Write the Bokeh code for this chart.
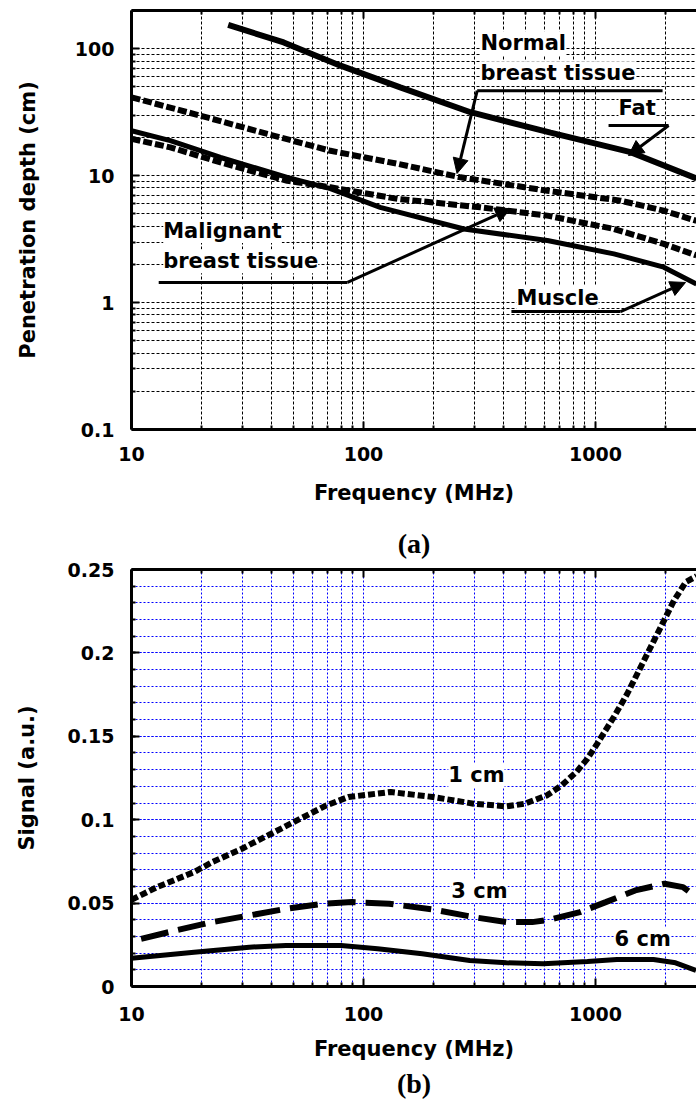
from bokeh.plotting import figure
from bokeh.models import (FixedTicker, LogAxis, Range1d, Label, Arrow, NormalHead,
                          Title, CustomJSTickFormatter)
from bokeh.layouts import column
from bokeh.embed import file_html
from bokeh.resources import INLINE

SANS = "DejaVu Sans"
SERIF = "Liberation Serif"

# ---------------- data: panel (a) penetration depth ----------------
fat_f = [26.1, 45.3, 79.6, 144, 289, 640, 1416, 2724]
fat_d = [154, 112, 73.5, 49.6, 31.6, 21.8, 15.3, 9.5]

normal_f = [10, 19.8, 38.5, 72, 140, 262, 620, 1282, 1968, 2724]
normal_d = [41.4, 29.7, 21.3, 15.7, 12.4, 9.7, 7.6, 6.35, 5.3, 4.4]

malig_f = [10, 14.7, 24.2, 46.9, 72, 140, 319, 620, 1200, 1968, 2724]
malig_d = [19.5, 16.7, 12.7, 9.1, 8.1, 6.56, 5.63, 4.84, 3.80, 2.90, 2.35]

muscle_f = [10, 14.7, 24.2, 46.9, 72, 118, 271, 620, 1200, 1968, 2724]
muscle_d = [22.6, 18.9, 13.9, 9.7, 7.9, 5.63, 3.80, 3.08, 2.42, 1.90, 1.40]

# ---------------- data: panel (b) signal ----------------
s1_f = [10, 12.9, 18.6, 22.3, 29.9, 40, 51.7, 69.2, 86.1, 131, 199, 298, 413, 496,
        618, 715, 827, 923, 1016, 1199, 1370, 1565, 1786, 1973, 2179, 2450, 2724]
s1_v = [0.052, 0.0596, 0.0686, 0.0746, 0.0826, 0.0916, 0.0996, 0.1086, 0.1136, 0.1166,
        0.1136, 0.1096, 0.108, 0.1096, 0.1146, 0.1206, 0.1286, 0.1366, 0.1455, 0.1615,
        0.1755, 0.1915, 0.2074, 0.2194, 0.2314, 0.2425, 0.246]

s3_f = [11.0, 15.5, 22.3, 32.2, 46.3, 66.7, 89.3, 129, 199, 298, 413, 533, 641, 857,
        1107, 1483, 1985, 2383, 2660]
s3_v = [0.0286, 0.0336, 0.0386, 0.0426, 0.0466, 0.0496, 0.0506, 0.0496, 0.0462, 0.0416,
        0.0386, 0.0386, 0.0402, 0.0446, 0.0506, 0.0576, 0.0616, 0.0596, 0.0546]

s6_f = [10, 18.6, 32.2, 46.3, 80, 115, 179, 287, 413, 595, 923, 1236, 1778, 2213, 2710]
s6_v = [0.017, 0.0206, 0.0236, 0.0246, 0.0246, 0.0226, 0.0196, 0.0156, 0.0142, 0.0136,
        0.015, 0.0162, 0.0162, 0.0142, 0.0096]

# ---------------- ticks ----------------
x_major = [10, 100, 1000]
x_minor = [m * d for d in (10, 100, 1000) for m in range(2, 10)]
ya_major = [0.1, 1, 10, 100]
ya_minor = [round(m * d, 3) for d in (0.1, 1, 10, 100) for m in range(2, 10)]
yb_major = [0, 0.05, 0.1, 0.15, 0.2, 0.25]
yb_minor = [round(i * 0.01, 2) for i in range(0, 26)]

X_END = 2724

fmt_code = "return tick.toString();"


def style_axis(ax, major, minor, show_labels=True):
    ax.ticker = FixedTicker(ticks=major, minor_ticks=minor)
    ax.axis_line_width = 3
    ax.axis_line_color = "black"
    ax.major_tick_in = 8
    ax.major_tick_out = 0
    ax.minor_tick_in = 4
    ax.minor_tick_out = 0
    ax.major_tick_line_width = 2
    ax.minor_tick_line_width = 2
    ax.major_tick_line_color = "black"
    ax.minor_tick_line_color = "black"
    ax.formatter = CustomJSTickFormatter(code=fmt_code)
    if show_labels:
        ax.major_label_text_font = SANS
        ax.major_label_text_font_style = "bold"
        ax.major_label_text_font_size = "19px"
        ax.major_label_text_color = "black"
    else:
        ax.major_label_text_font_size = "1px"
        ax.major_label_text_color = None
        ax.major_label_standoff = 0


def style_grid(p, color, dash):
    for g in (p.xgrid, p.ygrid):
        g.grid_line_color = color
        g.grid_line_dash = dash
        g.grid_line_width = 1
        g.minor_grid_line_color = color
        g.minor_grid_line_dash = dash
        g.minor_grid_line_width = 1


def add_label(p, x, y, text):
    p.add_layout(Label(x=x, y=y, text=text, text_font=SANS, text_font_style="bold",
                       text_font_size="21px", text_color="black",
                       text_baseline="middle", text_align="left",
                       background_fill_color="white"))


def add_arrow(p, x0, y0, x1, y1, head=True):
    end = NormalHead(size=15, fill_color="black", line_color="black", line_width=1) if head else None
    p.add_layout(Arrow(end=end, x_start=x0, y_start=y0, x_end=x1, y_end=y1,
                       line_width=3, line_color="black"))


def style_labels(ax, text, standoff):
    ax.axis_label = text
    ax.axis_label_text_font = SANS
    ax.axis_label_text_font_style = "bold"
    ax.axis_label_text_font_size = "21px"
    ax.axis_label_text_color = "black"
    ax.axis_label_standoff = standoff


def panel_title(text, standoff):
    return Title(text=text, text_font=SERIF, text_font_style="bold",
                 text_font_size="28px", align="center", text_color="black",
                 standoff=standoff)


# ================= panel (a) =================
pa = figure(width=696, height=512, x_axis_type="log", y_axis_type="log",
            x_range=Range1d(10, X_END), y_range=Range1d(0.1, 200),
            output_backend="svg", toolbar_location=None,
            min_border_left=131, min_border_right=0, min_border_top=10,
            min_border_bottom=83)
pa.outline_line_color = None

style_axis(pa.xaxis[0], x_major, x_minor)
style_axis(pa.yaxis[0], ya_major, ya_minor)
pa.xaxis[0].major_label_standoff = 17
pa.yaxis[0].major_label_standoff = 17
style_labels(pa.xaxis[0], "Frequency (MHz)", 17)
style_labels(pa.yaxis[0], "Penetration depth (cm)", 32)
pa.xgrid.ticker = pa.xaxis[0].ticker
pa.ygrid.ticker = pa.yaxis[0].ticker
style_grid(pa, "black", "3 2")

top_a = LogAxis()
style_axis(top_a, x_major, x_minor, show_labels=False)
pa.add_layout(top_a, "above")

pa.line(fat_f, fat_d, line_color="black", line_width=6)
pa.line(normal_f, normal_d, line_color="black", line_width=6, line_dash="9 3")
pa.line(malig_f, malig_d, line_color="black", line_width=6, line_dash="9 3")
pa.line(muscle_f, muscle_d, line_color="black", line_width=5)

add_label(pa, 319, 110.5, "Normal")
add_label(pa, 319, 64.1, "breast tissue")
add_arrow(pa, 309, 46.7, 1945, 46.7, head=False)
add_arrow(pa, 309, 46.7, 253, 10.4)

add_label(pa, 1256, 34.0, "Fat")
add_arrow(pa, 1138, 24.8, 2065, 24.8, head=False)
add_arrow(pa, 2065, 24.8, 1387, 14.4)

add_label(pa, 13.7, 3.66, "Malignant")
add_label(pa, 13.7, 2.12, "breast tissue")
add_arrow(pa, 13.1, 1.44, 85.3, 1.44, head=False)
add_arrow(pa, 85.3, 1.44, 430, 5.5)

add_label(pa, 456, 1.085, "Muscle")
add_arrow(pa, 434, 0.85, 1282, 0.85, head=False)
add_arrow(pa, 1282, 0.85, 2443, 1.44)

# ================= panel (b) =================
pb = figure(width=696, height=589, x_axis_type="log",
            x_range=Range1d(10, X_END), y_range=Range1d(0, 0.25),
            output_backend="svg", toolbar_location=None,
            min_border_left=131, min_border_right=0, min_border_top=57,
            min_border_bottom=115)
pb.outline_line_color = None

style_axis(pb.xaxis[0], x_major, x_minor)
style_axis(pb.yaxis[0], yb_major, yb_minor)
pb.xaxis[0].major_label_standoff = 20
pb.yaxis[0].major_label_standoff = 17
style_labels(pb.xaxis[0], "Frequency (MHz)", 13)
style_labels(pb.yaxis[0], "Signal (a.u.)", 26)
pb.xgrid.ticker = pb.xaxis[0].ticker
pb.ygrid.ticker = pb.yaxis[0].ticker
style_grid(pb, "#0000ff", "2 2")

top_b = LogAxis()
style_axis(top_b, x_major, x_minor, show_labels=False)
pb.add_layout(top_b, "above")
# caption of panel (a) sits just above panel (b)
pb.add_layout(panel_title("(a)", 22), "above")

pb.line(s1_f, s1_v, line_color="black", line_width=6, line_dash="7 3")
pb.line(s3_f, s3_v, line_color="black", line_width=6, line_dash="28 10")
pb.line(s6_f, s6_v, line_color="black", line_width=5)

add_label(pb, 232, 0.1268, "1 cm")
add_label(pb, 239, 0.0573, "3 cm")
add_label(pb, 1208, 0.0282, "6 cm")

pb.add_layout(panel_title("(b)", 5), "below")

layout = column(pa, pb, spacing=0)
open("out.html", "w").write(file_html(layout, INLINE))
